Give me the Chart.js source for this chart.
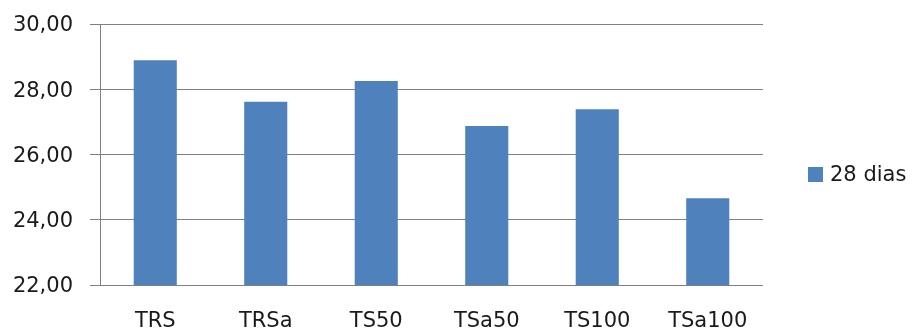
<!DOCTYPE html>
<html>
<head>
<meta charset="utf-8">
<script src="https://cdn.jsdelivr.net/npm/chart.js@4.4.1/dist/chart.umd.min.js"></script>
<style>
  html, body { margin: 0; padding: 0; background: #ffffff; }
  #wrap { width: 912px; height: 332px; }
</style>
</head>
<body>
<div id="wrap"><canvas id="chart" width="912" height="332"></canvas></div>
<script>
// Resistência aos 28 dias por traço
const categories = ['TRS', 'TRSa', 'TS50', 'TSa50', 'TS100', 'TSa100'];
const dias28 = [28.89, 27.62, 28.25, 26.87, 27.39, 24.66];
const seriesLabel = '28 dias';
const yTicks = [22, 24, 26, 28, 30];

const FONT = "'DejaVu Sans', sans-serif";
const TEXT = '#1a1a1a';
const GRID = '#808080';
const BAR = '#4F81BD';

// Legend drawn to the right of the plot area
const sideLegend = {
  id: 'sideLegend',
  afterDraw(chart) {
    const { ctx, chartArea } = chart;
    const ds = chart.data.datasets[0];
    const cy = (chartArea.top + chartArea.bottom) / 2 + 20;
    const x = chartArea.right + 45;
    ctx.save();
    ctx.fillStyle = ds.backgroundColor;
    ctx.fillRect(x, cy - 7.5, 15, 15);
    ctx.fillStyle = TEXT;
    ctx.font = '21px ' + FONT;
    ctx.textBaseline = 'middle';
    ctx.textAlign = 'left';
    ctx.fillText(ds.label, x + 22, cy + 1);
    ctx.restore();
  }
};

new Chart(document.getElementById('chart'), {
  type: 'bar',
  data: {
    labels: categories,
    datasets: [{
      label: seriesLabel,
      data: dias28,
      backgroundColor: BAR,
      borderWidth: 0,
      barPercentage: 0.39,
      categoryPercentage: 1.0
    }]
  },
  options: {
    responsive: false,
    animation: false,
    layout: { padding: { top: 24, right: 149, left: 0, bottom: 0 } },
    plugins: {
      legend: { display: false },
      tooltip: { enabled: false }
    },
    scales: {
      x: {
        grid: { display: false, drawTicks: false },
        border: { display: false },
        ticks: {
          color: TEXT,
          font: { family: FONT, size: 21 },
          padding: 24,
          maxRotation: 0
        },
        afterFit(scale) { scale.height = 47; }
      },
      y: {
        min: 22,
        max: 30,
        afterBuildTicks(scale) { scale.ticks = yTicks.map(v => ({ value: v })); },
        grid: { color: GRID, lineWidth: 1, drawTicks: true, tickLength: 10 },
        border: { display: true, color: GRID, width: 1 },
        ticks: {
          color: TEXT,
          font: { family: FONT, size: 21 },
          padding: 17,
          labelOffset: 2,
          callback: v => v.toFixed(2).replace('.', ',')
        },
        afterFit(scale) {
          scale.width = 100;
          scale.paddingTop = 0;
          scale.paddingBottom = 0;
        }
      }
    }
  },
  plugins: [sideLegend]
});
</script>
</body>
</html>
